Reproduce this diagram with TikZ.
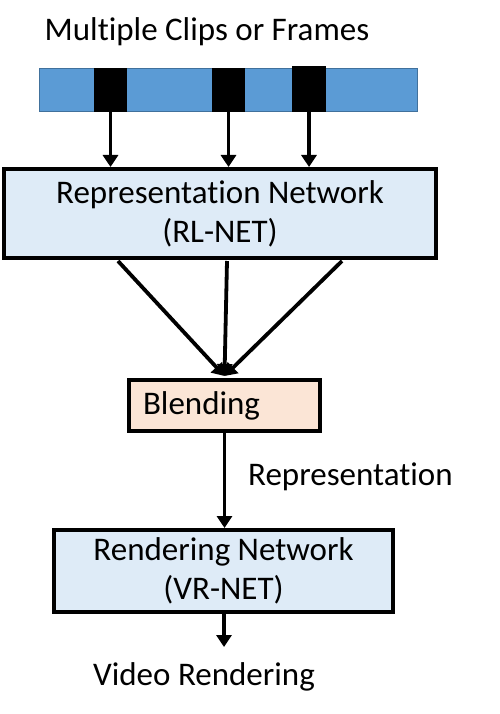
\documentclass[tikz,border=0pt]{standalone}
\usepackage{fontspec}
\setmainfont{Carlito}[Ligatures={NoCommon}]
\usetikzlibrary{arrows.meta,calc}
\definecolor{stripblue}{HTML}{5B9BD5}
\definecolor{stripedge}{HTML}{41719C}
\definecolor{boxblue}{HTML}{DEEBF7}
\definecolor{boxpeach}{HTML}{FBE5D6}
\tikzset{
  bigbox/.style={draw=black, line width=4pt, rectangle, inner sep=0pt, align=center,
    font=\fontsize{33}{39}\selectfont},
  frame/.style={fill=black, draw=none, rectangle, inner sep=0pt},
  arr/.style={line width=3.8pt, -{Triangle[width=15pt,length=12pt]}},
  lbl/.style={font=\fontsize{33}{39}\selectfont, inner sep=0pt, anchor=base}
}
\begin{document}
\begin{tikzpicture}[x=1pt,y=-1pt]
\useasboundingbox (0,0) rectangle (500,714);
% title
\node[lbl] (title) at (207,41) {Multiple Clips or Frames};
% strip
\node[draw=stripedge, fill=stripblue, line width=1pt, rectangle, inner sep=0pt,
  minimum width=378pt, minimum height=43pt] (strip) at (228.5,90) {};
\node[frame, minimum width=33pt, minimum height=44pt] (f1) at (110.5,90) {};
\node[frame, minimum width=33pt, minimum height=44pt] (f2) at (228.5,90) {};
\node[frame, minimum width=34pt, minimum height=46pt] (f3) at (309,89) {};
% representation network
\node[bigbox, fill=boxblue, minimum width=432pt, minimum height=89pt] (rep) at (220,213.5)
  {Representation Network\\(RL-NET)};
% blending
\node[bigbox, fill=boxpeach, text width=163pt, inner xsep=14pt, align=left,
  minimum height=51pt] (blend) at (224.5,405.5) {Blending};
% rendering network
\node[bigbox, fill=boxblue, minimum width=339pt, minimum height=82pt] (rend) at (223.5,571)
  {Rendering Network\\(VR-NET)};
% labels
\node[lbl, anchor=base west] (replbl) at (248,485) {Representation};
\node[lbl] (out) at (204,685) {Video Rendering};
\coordinate (outend) at (224,647);
% arrows
\draw[arr] (f1.south) -- (f1.south |- rep.north);
\draw[arr] (f2.south) -- (f2.south |- rep.north);
\draw[arr] (f3.south) -- (f3.south |- rep.north);
\draw[arr] ($(rep.south)+(-102,1)$) -- ($(blend.north)+(0,-2)$);
\draw[arr] ($(rep.south)+(7,1)$) -- ($(blend.north)+(0,-2)$);
\draw[arr] ($(rep.south)+(122,1)$) -- ($(blend.north)+(0,-2)$);
\draw[arr] (blend.south) -- (blend.south |- rend.north);
\draw[arr] (rend.south -| outend) -- (outend);
\end{tikzpicture}
\end{document}
